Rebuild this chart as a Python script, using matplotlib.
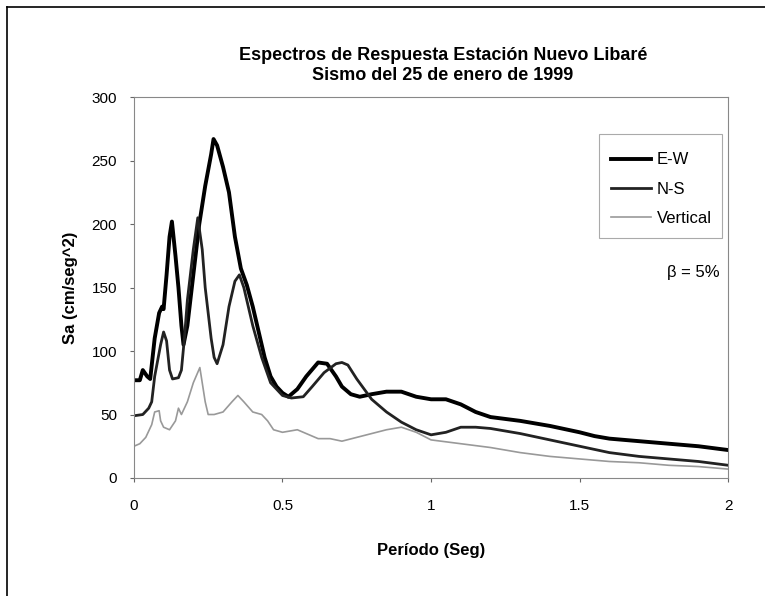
import matplotlib
matplotlib.use('Agg')
import matplotlib.pyplot as plt
from matplotlib.lines import Line2D
from matplotlib.patches import Rectangle
import numpy as np

plt.rcParams['font.family'] = ['Liberation Sans', 'DejaVu Sans']

# periodo (seg) and Sa (cm/seg^2)
t_ew = [0, 0.02, 0.03, 0.045, 0.055, 0.07, 0.085, 0.095, 0.1, 0.11, 0.12, 0.128, 0.14, 0.15, 0.16, 0.167,
        0.18, 0.2, 0.22, 0.24, 0.26, 0.268, 0.28, 0.3, 0.32, 0.34, 0.36, 0.38, 0.4, 0.42, 0.44, 0.46,
        0.48, 0.5, 0.52, 0.55, 0.58, 0.62, 0.65, 0.68, 0.7, 0.73, 0.76, 0.8, 0.85, 0.9, 0.95, 1.0,
        1.05, 1.1, 1.15, 1.2, 1.3, 1.4, 1.5, 1.55, 1.6, 1.7, 1.8, 1.9, 2.0]
sa_ew = [77, 77, 85, 80, 78, 110, 130, 135, 133, 160, 190, 202, 175, 150, 120, 105,
         120, 160, 200, 230, 255, 267, 262, 245, 225, 190, 165, 152, 135, 115, 95, 80,
         72, 67, 64, 70, 80, 91, 90, 80, 72, 66, 64, 66, 68, 68, 64, 62,
         62, 58, 52, 48, 45, 41, 36, 33, 31, 29, 27, 25, 22]

t_ns = [0, 0.03, 0.05, 0.06, 0.07, 0.09, 0.1, 0.11, 0.12, 0.13, 0.15, 0.16, 0.17, 0.18, 0.2, 0.215,
        0.23, 0.24, 0.26, 0.27, 0.28, 0.3, 0.32, 0.34, 0.355, 0.37, 0.4, 0.43, 0.46, 0.48, 0.5, 0.53,
        0.57, 0.6, 0.64, 0.68, 0.7, 0.72, 0.75, 0.8, 0.85, 0.9, 0.95, 1.0, 1.05, 1.1, 1.15, 1.2,
        1.3, 1.4, 1.5, 1.6, 1.7, 1.8, 1.9, 2.0]
sa_ns = [49, 50, 55, 60, 80, 105, 115, 108, 85, 78, 79, 85, 110, 140, 180, 205,
         180, 150, 110, 95, 90, 105, 135, 155, 160, 150, 120, 95, 75, 70, 65, 63,
         64, 72, 83, 90, 91, 89, 78, 62, 52, 44, 38, 34, 36, 40, 40, 39,
         35, 30, 25, 20, 17, 15, 13, 10]

t_v = [0, 0.02, 0.04, 0.06, 0.07, 0.085, 0.09, 0.1, 0.12, 0.14, 0.15, 0.16, 0.18, 0.2, 0.222, 0.24,
       0.25, 0.27, 0.3, 0.33, 0.35, 0.37, 0.4, 0.43, 0.45, 0.47, 0.5, 0.55, 0.58, 0.62, 0.66, 0.7,
       0.75, 0.8, 0.85, 0.9, 0.95, 1.0, 1.1, 1.2, 1.3, 1.4, 1.5, 1.6, 1.7, 1.8, 1.9, 2.0]
sa_v = [25, 27, 32, 42, 52, 53, 45, 40, 38, 45, 55, 50, 60, 75, 87, 60,
        50, 50, 52, 60, 65, 60, 52, 50, 45, 38, 36, 38, 35, 31, 31, 29,
        32, 35, 38, 40, 36, 30, 27, 24, 20, 17, 15, 13, 12, 10, 9, 7]

fig = plt.figure(figsize=(7.65, 5.96), dpi=100)
ax = fig.add_axes([0.175, 0.198, 0.777, 0.639])

ax.plot(t_ew, sa_ew, color='black', lw=2.8, label='E-W')
ax.plot(t_ns, sa_ns, color='#222222', lw=2.0, label='N-S')
ax.plot(t_v, sa_v, color='#999999', lw=1.2, label='Vertical')

ax.set_xlim(0, 2)
ax.set_ylim(0, 300)
ax.set_xticks([0, 0.5, 1, 1.5, 2])
ax.set_xticklabels(['0', '0.5', '1', '1.5', '2'])
ax.set_yticks(np.arange(0, 301, 50))
ax.tick_params(labelsize=11, length=3, color='#666666', pad=9)
ax.tick_params(axis='x', pad=12)

for s in ax.spines.values():
    s.set_color('#888888')
    s.set_linewidth(0.8)

ax.set_xlabel('Período (Seg)', fontsize=12, fontweight='bold', labelpad=22)
ax.set_ylabel('Sa (cm/seg^2)', fontsize=12, fontweight='bold', labelpad=10)
ax.set_title('Espectros de Respuesta Estación Nuevo Libaré\nSismo del 25 de enero de 1999',
             fontsize=13, fontweight='bold', pad=12, x=0.52, linespacing=1.3)

leg = ax.legend(loc='upper right', bbox_to_anchor=(0.995, 0.89), fontsize=12, frameon=False,
                handlelength=2.4, handletextpad=0.35, labelspacing=0.85, borderpad=0.3)
ax.add_patch(Rectangle((0.783, 0.630), 0.207, 0.273, transform=ax.transAxes,
                       fill=False, edgecolor='#aaaaaa', lw=0.8))

ax.text(1.97, 162, 'β = 5%', fontsize=12, ha='right', va='center')

# outer frame of the scanned page
fig.add_artist(Line2D([0.009, 1.0], [0.988, 0.988], color='black', lw=1.2, transform=fig.transFigure))
fig.add_artist(Line2D([0.009, 0.009], [0.0, 0.988], color='black', lw=1.2, transform=fig.transFigure))

fig.savefig('out.png', dpi=100)
